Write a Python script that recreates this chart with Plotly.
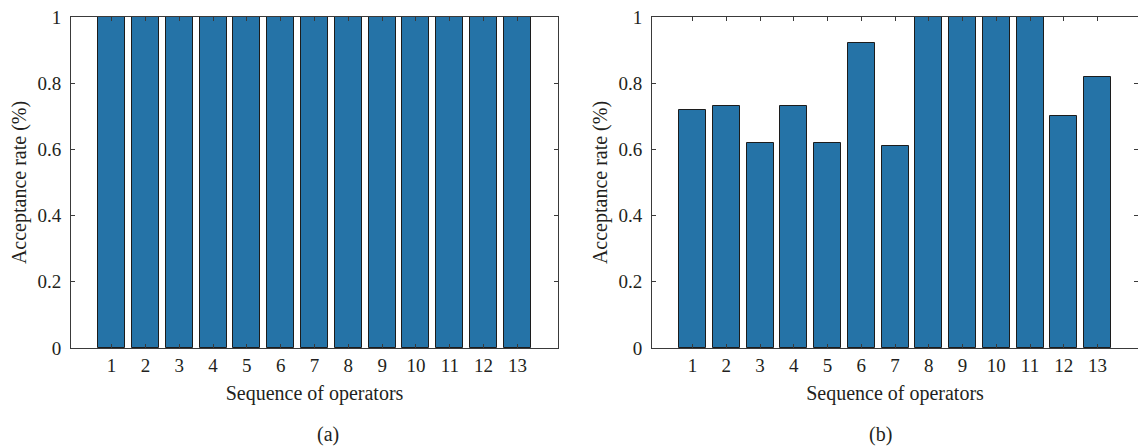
import plotly.graph_objects as go

categories = [str(i) for i in range(1, 14)]
rates_a = [1]*13
rates_b = [0.72, 0.73, 0.62, 0.73, 0.62, 0.92, 0.61, 1.0, 1.0, 1.0, 1.0, 0.70, 0.82]
y_ticks = [0, 0.2, 0.4, 0.6, 0.8, 1]
y_tick_labels = ["0", "0.2", "0.4", "0.6", "0.8", "1"]
x_title = "Sequence of operators"
y_title = "Acceptance rate (%)"
panel_labels = ["(a)", "(b)"]

W, H = 1138, 446
BAR = "#2573a7"
EDGE = "#1c1c1c"
AX = "#3a3a3a"
TXT = "#231f20"
FONT = "Liberation Serif"

xs = list(range(1, 14))
fig = go.Figure()
fig.add_trace(go.Bar(x=xs, y=rates_a, width=0.8, marker=dict(color=BAR, line=dict(color=EDGE, width=1)),
                     xaxis="x", yaxis="y", showlegend=False))
fig.add_trace(go.Bar(x=xs, y=rates_b, width=0.8, marker=dict(color=BAR, line=dict(color=EDGE, width=1)),
                     xaxis="x2", yaxis="y2", showlegend=False))

def px(v):
    return v / W

def py(v):
    return 1 - v / H

y_dom = [py(348), py(17)]
xa = dict(range=[-0.2, 14.2], tickmode="array", tickvals=xs, ticktext=categories,
          ticks="inside", ticklen=4, tickcolor=AX, showline=True, linecolor=AX, linewidth=1,
          mirror="ticks", showgrid=False, zeroline=False, automargin=False,
          tickfont=dict(family=FONT, size=19, color=TXT),
          title=dict(text=x_title, font=dict(family=FONT, size=20, color=TXT), standoff=11))
ya = dict(range=[0, 1], tickmode="array", tickvals=y_ticks, ticktext=y_tick_labels,
          ticks="inside", ticklen=4, tickcolor=AX, showline=True, linecolor=AX, linewidth=1,
          mirror="ticks", showgrid=False, zeroline=False, automargin=False,
          ticklabelstandoff=5,
          tickfont=dict(family=FONT, size=19, color=TXT),
          title=dict(text=y_title, font=dict(family=FONT, size=20, color=TXT), standoff=5))

fig.update_layout(
    width=W, height=H, margin=dict(l=0, r=0, t=0, b=0),
    plot_bgcolor="white", paper_bgcolor="white", bargap=0,
    xaxis=dict(xa, domain=[px(71), px(558)], anchor="y"),
    yaxis=dict(ya, domain=y_dom, anchor="x"),
    xaxis2=dict(xa, domain=[px(652), 1.0], anchor="y2"),
    yaxis2=dict(ya, domain=y_dom, anchor="x2"),
    annotations=[
        dict(text=panel_labels[0], x=px(315), y=py(434), xref="paper", yref="paper",
             yanchor="middle", showarrow=False, font=dict(family=FONT, size=20, color=TXT)),
        dict(text=panel_labels[1], x=px(894), y=py(434), xref="paper", yref="paper",
             yanchor="middle", showarrow=False, font=dict(family=FONT, size=20, color=TXT)),
    ],
)

fig.write_html("out.html")
